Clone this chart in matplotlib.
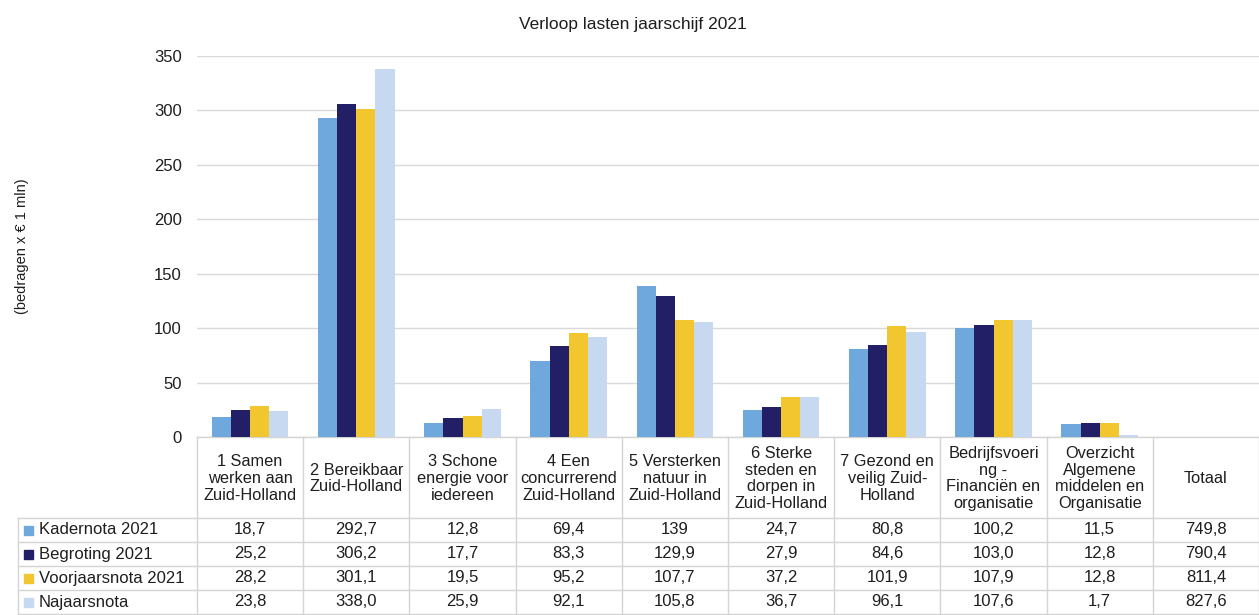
import numpy as np
import matplotlib
matplotlib.use("Agg")
import matplotlib.pyplot as plt
from matplotlib.patches import Rectangle
from matplotlib.transforms import blended_transform_factory

plt.rcParams['font.family'] = ['Liberation Sans', 'DejaVu Sans']

categories = [
    "1 Samen\nwerken aan\nZuid-Holland",
    "2 Bereikbaar\nZuid-Holland",
    "3 Schone\nenergie voor\niedereen",
    "4 Een\nconcurrerend\nZuid-Holland",
    "5 Versterken\nnatuur in\nZuid-Holland",
    "6 Sterke\nsteden en\ndorpen in\nZuid-Holland",
    "7 Gezond en\nveilig Zuid-\nHolland",
    "Bedrijfsvoeri\nng -\nFinanciën en\norganisatie",
    "Overzicht\nAlgemene\nmiddelen en\nOrganisatie",
    "Totaal",
]
series_names = ["Kadernota 2021", "Begroting 2021", "Voorjaarsnota 2021", "Najaarsnota"]
kadernota = [18.7, 292.7, 12.8, 69.4, 139, 24.7, 80.8, 100.2, 11.5, 749.8]
begroting = [25.2, 306.2, 17.7, 83.3, 129.9, 27.9, 84.6, 103.0, 12.8, 790.4]
voorjaarsnota = [28.2, 301.1, 19.5, 95.2, 107.7, 37.2, 101.9, 107.9, 12.8, 811.4]
najaarsnota = [23.8, 338.0, 25.9, 92.1, 105.8, 36.7, 96.1, 107.6, 1.7, 827.6]
# the table shows one decimal place except this one cell
labels_override = {(0, 4): "139"}

colors = ["#6FA8DC", "#231F66", "#F2C62E", "#C6D9F1"]
series = [kadernota, begroting, voorjaarsnota, najaarsnota]

W, H = 1259, 615
txt = "#1E1E1E"
linec = "#D4D4D4"


def fx(px):
    return px / W


def fy(py):
    return 1 - py / H


fig = plt.figure(figsize=(W / 100, H / 100), dpi=100)
ax = fig.add_axes([fx(197), fy(437), 1 - fx(197), fy(56) - fy(437)])

n_bars = len(categories) - 1  # Totaal has no bars in the chart
x = np.arange(len(categories))
bw = 0.18
for i, (vals, c) in enumerate(zip(series, colors)):
    ax.bar(x[:n_bars] + (i - 1.5) * bw, vals[:n_bars], width=bw, color=c, zorder=3)

ax.set_xlim(-0.5, len(categories) - 0.5)
ax.set_ylim(0, 350)
ax.set_yticks(range(0, 351, 50))
ax.yaxis.grid(True, color="#D9D9D9", linewidth=1, zorder=0)
ax.set_xticks([])
for s in ax.spines.values():
    s.set_visible(False)
ax.tick_params(axis="y", length=0, pad=11, labelsize=12, labelcolor=txt)
ax.set_ylabel("(bedragen x € 1 mln)", fontsize=10.5, color=txt, labelpad=90)

fig.text(0.503, fy(25), "Verloop lasten jaarschijf 2021", ha="center", va="center",
         fontsize=12.5, color=txt)

# data table under the axes
tr = blended_transform_factory(ax.transData, fig.transFigure)
top, head_bot, row_h = 437, 518, 24
bottom = head_bot + row_h * len(series)

for b in np.arange(len(categories) + 1) - 0.5:
    ax.plot([b, b], [fy(top), fy(bottom)], transform=tr, color=linec, lw=1, clip_on=False)
ax.plot([-0.5, len(categories) - 0.5], [fy(top), fy(top)], transform=tr, color=linec, lw=1,
        clip_on=False)
for r in range(len(series) + 1):
    yy = fy(head_bot + r * row_h)
    fig.add_artist(plt.Line2D([fx(18), 1], [yy, yy], color=linec, lw=1))
fig.add_artist(plt.Line2D([fx(18), fx(18)], [fy(head_bot), fy(bottom)], color=linec, lw=1))

for j, cat in enumerate(categories):
    ax.text(j, fy((top + head_bot) / 2 + 1), cat, transform=tr, ha="center", va="center",
            fontsize=11.8, color=txt, linespacing=1.15)

for i, (name, vals, c) in enumerate(zip(series_names, series, colors)):
    yc = head_bot + row_h * (i + 0.5)
    fig.add_artist(Rectangle((fx(24), fy(yc + 4.5)), fx(9), fy(yc - 4.5) - fy(yc + 4.5),
                             color=c))
    fig.text(fx(39), fy(yc), name, ha="left", va="center", fontsize=12, color=txt)
    for j, v in enumerate(vals):
        lab = labels_override.get((i, j), f"{v:.1f}".replace(".", ","))
        ax.text(j, fy(yc), lab, transform=tr, ha="center", va="center", fontsize=12,
                color=txt)

fig.savefig("out.png", dpi=100)
